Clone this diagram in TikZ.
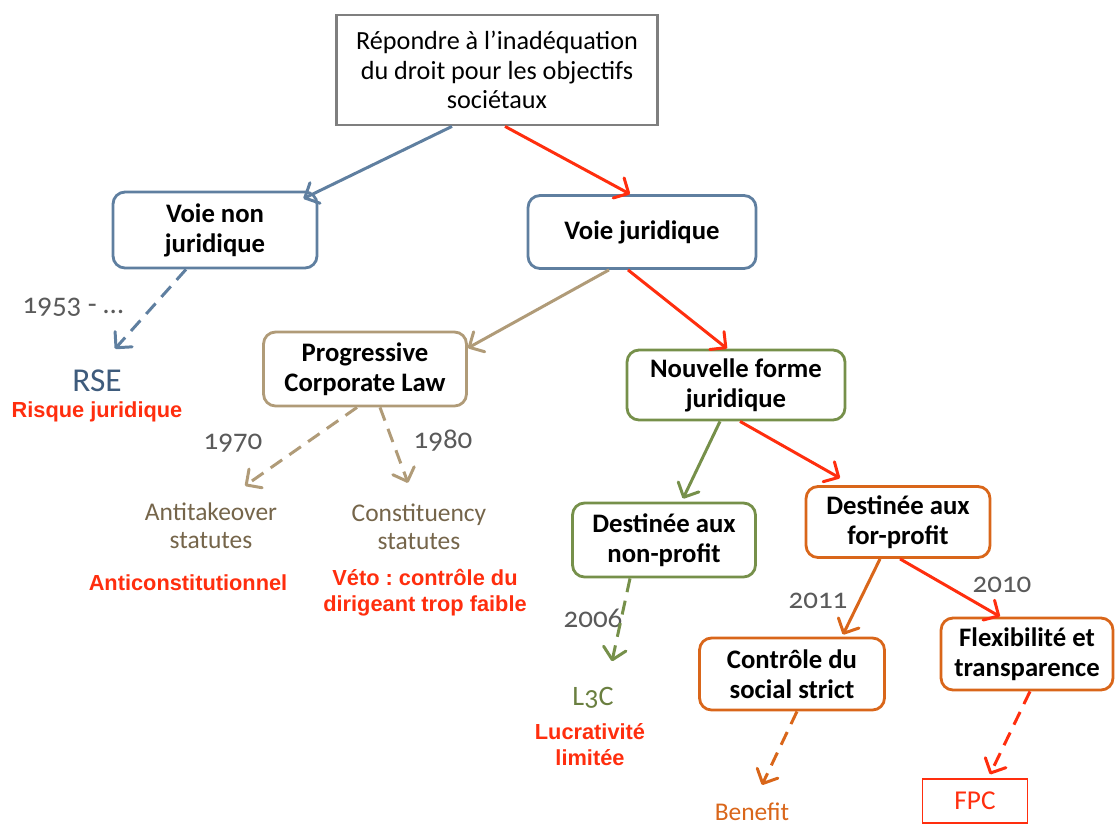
\documentclass[tikz,border=0pt]{standalone}
\usepackage{fontspec}
\setmainfont{Carlito}[Numbers=OldStyle]
\newfontfamily\arialfont{Liberation Sans}
\usepackage{tikz}
\usetikzlibrary{arrows.meta}
\frenchspacing

\definecolor{boxgray}{HTML}{7F7F7F}
\definecolor{voieblue}{HTML}{5F7FA0}
\definecolor{rseblue}{HTML}{3E5B7C}
\definecolor{progtan}{HTML}{B09B78}
\definecolor{stattan}{HTML}{75654A}
\definecolor{formgreen}{HTML}{76904A}
\definecolor{l3cgreen}{HTML}{6A7F40}
\definecolor{profitorange}{HTML}{D9661A}
\definecolor{alertred}{HTML}{FF2E0E}
\definecolor{yeargray}{HTML}{5A5A5A}

\begin{document}
\begin{tikzpicture}[x=0.02cm, y=-0.02cm,
            every node/.style={align=center, font=\fontsize{14.5}{17}\selectfont},
            box/.style={draw, line width=1.6pt, rounded corners=0.24cm, fill=white,
                         font=\fontsize{15.2}{17}\selectfont\bfseries},
            yr/.style={text=yeargray, font=\fontsize{16.5}{18}\selectfont},
            alert/.style={text=alertred, font=\fontsize{12.4}{14.7}\selectfont\arialfont\bfseries},
            link/.style={line width=1.7pt, line join=round,
                         -{Straight Barb[length=6.5pt,width=13pt,round]}},
            dlink/.style={link, dash pattern=on 8pt off 5pt}]
        \useasboundingbox (0,0) rectangle (1115,825);

        % boxes
        \node[box, rounded corners=0pt, draw=boxgray, font=\fontsize{14.9}{16.8}\selectfont,
              minimum width=6.42cm, minimum height=2.2cm] (top) at (497,70)
              {Répondre à l’inadéquation\\du droit pour les objectifs\\sociétaux};
        \node[box, draw=voieblue, minimum width=4.08cm, minimum height=1.52cm] (vnj) at (215,230) {Voie non\\juridique};
        \node[box, draw=voieblue, minimum width=4.56cm, minimum height=1.46cm] (vj) at (642,232) {Voie juridique};
        \node[box, draw=progtan, minimum width=4.06cm, minimum height=1.48cm] (pcl) at (365,369) {Progressive\\Corporate Law};
        \node[box, draw=formgreen, minimum width=4.36cm, minimum height=1.4cm] (nfj) at (736,385) {Nouvelle forme\\juridique};
        \node[box, draw=formgreen, minimum width=3.66cm, minimum height=1.48cm] (dnp) at (664,540) {Destinée aux\\non-profit};
        \node[box, draw=profitorange, minimum width=3.68cm, minimum height=1.42cm] (dfp) at (898,522) {Destinée aux\\for-profit};
        \node[box, draw=profitorange, minimum width=3.7cm, minimum height=1.44cm] (csc) at (792,674) {Contrôle du\\social strict};
        \node[box, draw=profitorange, minimum width=3.44cm, minimum height=1.44cm] (flex) at (1027,654) {Flexibilité et\\transparence};
        \node[draw=alertred, line width=0.8pt, text=alertred, font=\fontsize{15.5}{17}\selectfont,
              minimum width=2.1cm, minimum height=0.88cm] (fpc) at (975,801) {FPC};

        % outcomes
        \node[text=rseblue, font=\fontsize{19}{20}\selectfont] (rse) at (97,381) {RSE};
        \node[alert] (risque) at (97,412) {Risque juridique};
        \node[text=stattan, font=\fontsize{14.5}{16}\selectfont] (anti) at (211,526) {Antitakeover\\statutes};
        \node[text=stattan, font=\fontsize{14.5}{16}\selectfont] (const) at (419,527) {Constituency\\statutes};
        \node[alert] (anticonst) at (188,583) {Anticonstitutionnel};
        \node[alert] (veto) at (425,593) {Véto : contrôle du\\dirigeant trop faible};
        \node[text=l3cgreen, font=\fontsize{16}{18}\selectfont] (l3c) at (593,698) {L3C};
        \node[alert] (lucra) at (590,745) {Lucrativité\\limitée};
        \node[text=profitorange] (benefit) at (752,812) {Benefit};

        % dates
        \node[yr] (y1953) at (73,307) {1953 - …};
        \node[yr] (y1970) at (233,443) {1970};
        \node[yr] (y1980) at (443,441) {1980};
        \node[yr] (y2006) at (593,618) {2006};
        \node[yr] (y2011) at (818,601) {2011};
        \node[yr] (y2010) at (1002,585) {2010};

        % connectors
        \draw[link, voieblue] ([xshift=-0.9cm]top.south) -- ([xshift=-0.3cm,yshift=-0.16cm]vnj.north east);
        \draw[link, alertred] ([xshift=0.16cm]top.south) -- ([xshift=-0.24cm]vj.north);
        \draw[dlink, voieblue] ([xshift=-0.58cm]vnj.south) -- ([xshift=0.36cm,yshift=0.3cm]rse.north);
        \draw[link, progtan] ([xshift=-0.66cm]vj.south) -- ([yshift=0.42cm]pcl.east);
        \draw[link, alertred] ([xshift=-0.28cm]vj.south) -- ([xshift=-0.18cm]nfj.north);
        \draw[dlink, progtan] ([xshift=-0.16cm]pcl.south) -- ([xshift=0.68cm,yshift=0.22cm]anti.north);
        \draw[dlink, progtan] ([xshift=0.3cm]pcl.south) -- ([xshift=-0.22cm,yshift=0.3cm]const.north);
        \draw[link, formgreen] ([xshift=-0.32cm]nfj.south) -- ([xshift=0.38cm,yshift=0.06cm]dnp.north);
        \draw[link, alertred] ([xshift=0.08cm]nfj.south) -- ([xshift=-1.16cm,yshift=0.14cm]dfp.north);
        \draw[dlink, formgreen] ([xshift=-0.68cm]dnp.south) -- ([xshift=0.38cm,yshift=0.4cm]l3c.north);
        \draw[link, profitorange] ([xshift=-0.36cm]dfp.south) -- ([xshift=1.02cm,yshift=0.04cm]csc.north);
        \draw[link, alertred] ([xshift=0.04cm]dfp.south) -- ([xshift=-0.54cm]flex.north);
        \draw[dlink, profitorange] ([xshift=0.1cm]csc.south) -- ([xshift=0.2cm,yshift=0.24cm]benefit.north);
        \draw[dlink, alertred] ([xshift=0.06cm]flex.south) -- ([xshift=0.3cm,yshift=0.08cm]fpc.north);
\end{tikzpicture}
\end{document}
